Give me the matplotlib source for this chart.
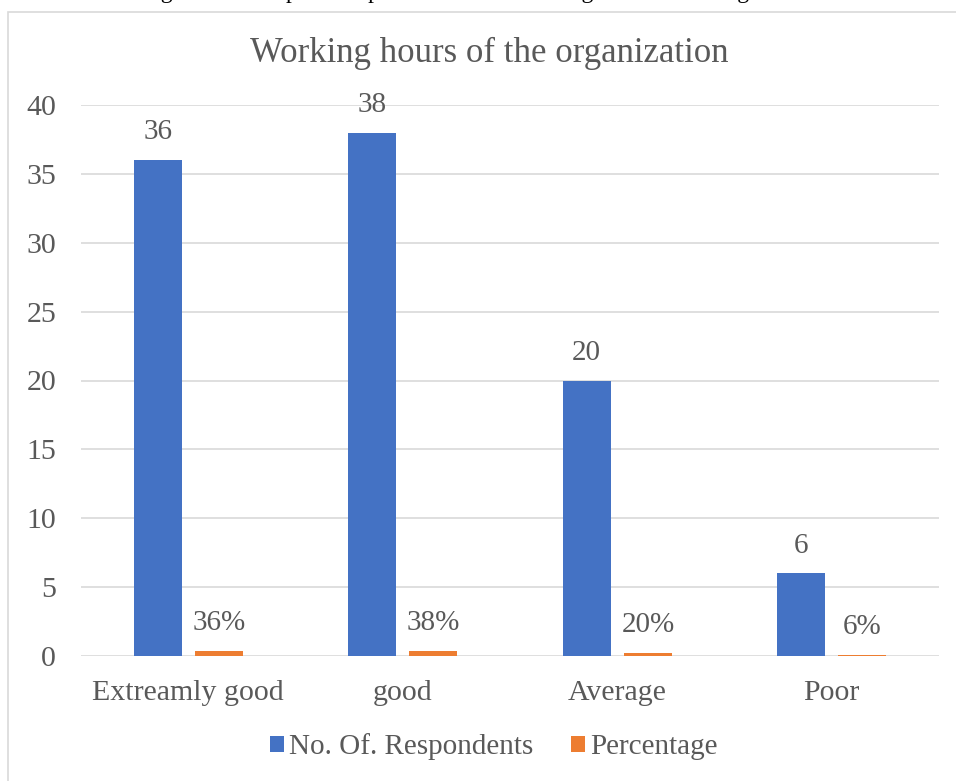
import numpy as np
import matplotlib
matplotlib.use("Agg")
import matplotlib.pyplot as plt
from matplotlib.patches import Rectangle

# chart data
categories = ["Extreamly good", "good", "Average", "Poor"]
respondents = [36, 38, 20, 6]
percentage = [0.36, 0.38, 0.20, 0.06]
pct_labels = ["36%", "38%", "20%", "6%"]

blue = "#4472C4"
orange = "#ED7D31"
grey_txt = "#595959"
grid_col = "#D9D9D9"

plt.rcParams['font.family'] = ['Liberation Serif', 'DejaVu Serif']

W, H = 956, 781
fig = plt.figure(figsize=(W / 100, H / 100), dpi=100)

# chart area border (runs off right and bottom edge)
fig.patches.append(Rectangle((8 / W, -0.05), 1.1, 1 - 12 / H + 0.05,
                             transform=fig.transFigure, fill=False,
                             edgecolor=grid_col, linewidth=1.2))

# caption above the chart, cut off by the image edge like in the source
fig.text(488 / W, 1 + 1.5 / H, "Figure 4.6: Graphical representation of working hours of the organization",
         ha='center', va='baseline', fontsize=17, color='black')

ax = fig.add_axes([81 / W, (H - 656) / H, 858 / W, (656 - 105) / H])

x = np.arange(len(categories))
bw = 0.224
off = 0.143
b1 = ax.bar(x - off, respondents, bw, color=blue, label="No. Of. Respondents", zorder=3)
b2 = ax.bar(x + off, percentage, bw, color=orange, label="Percentage", zorder=3)

for rect, v in zip(b1, respondents):
    ax.annotate(str(v), (rect.get_x() + rect.get_width() / 2, rect.get_height()),
                xytext=(0, 20), textcoords='offset points', ha='center', va='center',
                fontsize=21, color=grey_txt)
for rect, lab in zip(b2, pct_labels):
    ax.annotate(lab, (rect.get_x() + rect.get_width() / 2, rect.get_height()),
                xytext=(0, 20), textcoords='offset points', ha='center', va='center',
                fontsize=21, color=grey_txt)

ax.set_xlim(-0.5, len(categories) - 0.5)
ax.set_ylim(0, 40)
ax.set_yticks(range(0, 41, 5))
ax.set_xticks(x)
ax.set_xticklabels(categories)
ax.yaxis.grid(True, color=grid_col, linewidth=1.2, zorder=0)
ax.set_axisbelow(True)
for s in ax.spines.values():
    s.set_visible(False)
ax.tick_params(axis='both', length=0, labelsize=21.5, labelcolor=grey_txt)
ax.tick_params(axis='x', pad=17)
ax.tick_params(axis='y', pad=18)

fig.text(489 / W, (H - 53) / H, "Working hours of the organization",
         ha='center', va='center', fontsize=25, color=grey_txt)

fig.legend(handles=[b1, b2], loc='center', bbox_to_anchor=(494 / W, (H - 747) / H),
           ncol=2, frameon=False, fontsize=21, labelcolor=grey_txt,
           handlelength=0.48, handleheight=0.48, handletextpad=0.17, columnspacing=1.3)

fig.savefig("out.png", dpi=100)
